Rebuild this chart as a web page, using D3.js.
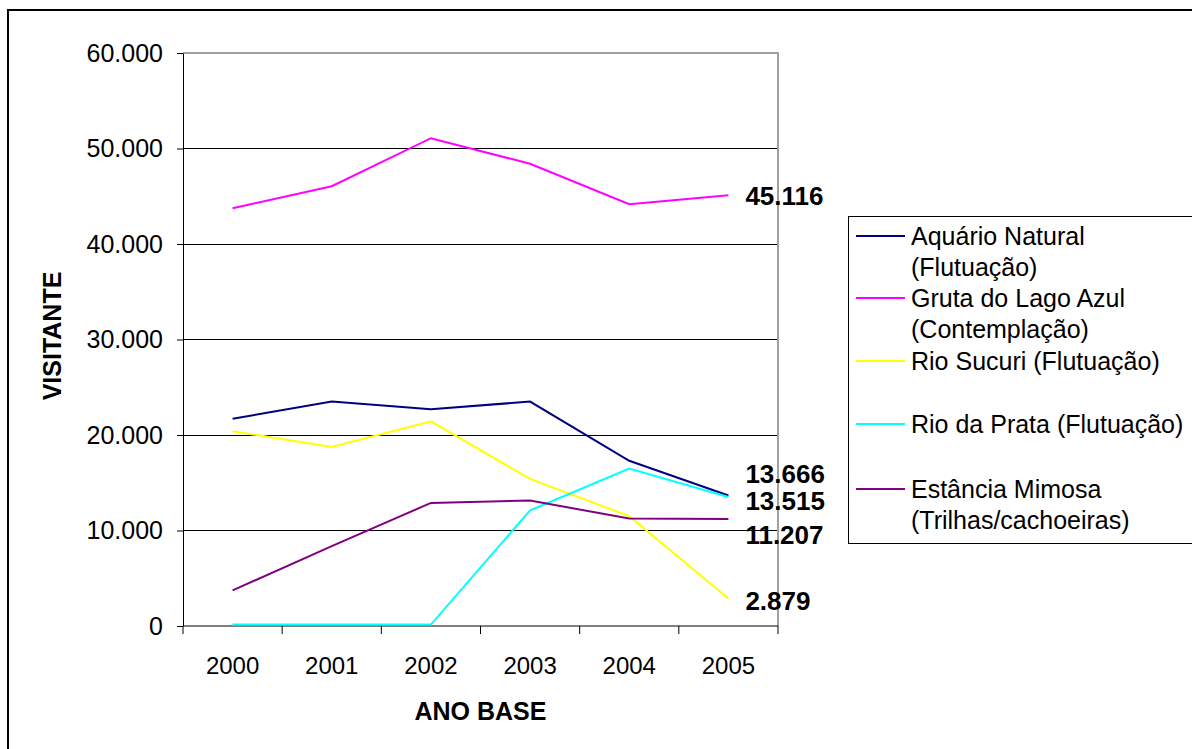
<!DOCTYPE html>
<html><head><meta charset="utf-8">
<script src="https://cdn.jsdelivr.net/npm/d3@7"></script>
<style>
html,body{margin:0;padding:0;background:#fff;}
svg{display:block;font-family:"Liberation Sans",Arial,sans-serif;}
</style></head>
<body>
<svg id="chart" width="1192" height="749"></svg>
<script>
// ---- data ----
const years = ["2000","2001","2002","2003","2004","2005"];
const seriesNames = ["Aquário Natural (Flutuação)","Gruta do Lago Azul (Contemplação)","Rio Sucuri (Flutuação)","Rio da Prata (Flutuação)","Estância Mimosa (Trilhas/cachoeiras)"];
const aquario = [21700, 23500, 22700, 23500, 17300, 13666];
const gruta   = [43750, 46050, 51080, 48400, 44170, 45116];
const sucuri  = [20400, 18750, 21430, 15400, 11500, 2879];
const prata   = [150, 150, 150, 12100, 16480, 13515];
const mimosa  = [3730, 8360, 12890, 13140, 11250, 11207];
const yTicks = [0, 10000, 20000, 30000, 40000, 50000, 60000];
const legendLines = [["Aquário Natural","(Flutuação)"],["Gruta do Lago Azul","(Contemplação)"],["Rio Sucuri (Flutuação)"],["Rio da Prata (Flutuação)"],["Estância Mimosa","(Trilhas/cachoeiras)"]];

// ---- styling / layout ----
const colors = ["#000080","#FF00FF","#FFFF00","#00FFFF","#800080"];
const seriesValues = [aquario, gruta, sucuri, prata, mimosa];
const labelDy = [-22, 1, 2, 4, 16]; // nudges for end labels (per series)
const plot = {left:183, right:778, top:53, bottom:626};

const loc = d3.formatLocale({decimal:",", thousands:".", grouping:[3], currency:["",""]});
const fmt = loc.format(",d");

const svg = d3.select("#chart");

// outer frame
svg.append("rect").attr("x",8).attr("y",10).attr("width",1300).attr("height",900)
  .attr("fill","none").attr("stroke","#000").attr("stroke-width",2);

const x = d3.scaleBand().domain(years).range([plot.left, plot.right]).padding(0);
const y = d3.scaleLinear().domain([0,60000]).range([plot.bottom, plot.top]);

// gridlines
svg.append("g").selectAll("line").data(yTicks.filter(d=>d>0 && d<60000)).join("line")
  .attr("x1",plot.left).attr("x2",plot.right)
  .attr("y1",d=>y(d)).attr("y2",d=>y(d))
  .attr("stroke","#000").attr("stroke-width",1).attr("shape-rendering","crispEdges");
// plot border (top/right)
svg.append("path")
  .attr("d",`M${plot.left},${y(60000)}H${plot.right}V${plot.bottom}`)
  .attr("fill","none").attr("stroke","#a0a0a0").attr("stroke-width",1.5).attr("shape-rendering","crispEdges");

// y axis
const yAxis = d3.axisLeft(y).tickValues(yTicks).tickFormat(d=>fmt(d)).tickSizeInner(6).tickSizeOuter(0).tickPadding(14);
const gy = svg.append("g").attr("transform",`translate(${plot.left},0)`).call(yAxis);
gy.select(".domain").attr("stroke","#000");
gy.selectAll(".tick line").attr("stroke","#000");
gy.selectAll("text").attr("font-size",25).attr("fill","#000").attr("font-family","Liberation Sans, Arial, sans-serif");

// x axis: ticks at band boundaries
const gx = svg.append("g").attr("transform",`translate(0,${plot.bottom})`);
gx.append("line").attr("x1",plot.left).attr("x2",plot.right).attr("y1",0).attr("y2",0).attr("stroke","#000");
const bounds = years.map(d=>x(d)).concat([x(years[years.length-1])+x.bandwidth()]);
gx.selectAll("line.tk").data(bounds).join("line").attr("class","tk")
  .attr("x1",d=>d).attr("x2",d=>d).attr("y1",0).attr("y2",8).attr("stroke","#000");
gx.selectAll("text").data(years).join("text")
  .attr("x",d=>x(d)+x.bandwidth()/2).attr("y",48)
  .attr("text-anchor","middle").attr("font-size",24).attr("fill","#000").text(d=>d);

// axis titles
svg.append("text").attr("x",(plot.left+plot.right)/2).attr("y",720).attr("text-anchor","middle")
  .attr("font-size",25).attr("font-weight","bold").text("ANO BASE");
svg.append("text").attr("transform","translate(61,336) rotate(-90)").attr("text-anchor","middle")
  .attr("font-size",25).attr("font-weight","bold").text("VISITANTE");

// lines
const line = d3.line().x((d,i)=>x(years[i])+x.bandwidth()/2).y(d=>y(d));
svg.append("g").selectAll("path").data(seriesValues).join("path")
  .attr("d",d=>line(d)).attr("fill","none")
  .attr("stroke",(d,i)=>colors[i]).attr("stroke-width",2);

// end labels
svg.append("g").selectAll("text").data(seriesValues).join("text")
  .attr("x",x(years[5])+x.bandwidth()/2+17)
  .attr("y",(d,i)=>y(d[5])+labelDy[i])
  .attr("dy","0.35em").attr("font-size",26).attr("font-weight","bold").attr("fill","#000")
  .text(d=>fmt(d[5]));

// legend
const lg = svg.append("g");
lg.append("rect").attr("x",848.5).attr("y",216.5).attr("width",400).attr("height",327)
  .attr("fill","#fff").attr("stroke","#000").attr("stroke-width",1);
const rowY = [236, 298, 361, 424, 489];
legendLines.forEach((lines,i)=>{
  lg.append("line").attr("x1",856).attr("x2",905).attr("y1",rowY[i]).attr("y2",rowY[i])
    .attr("stroke",colors[i]).attr("stroke-width",2);
  lines.forEach((t,j)=>{
    lg.append("text").attr("x",911).attr("y",rowY[i]+j*31).attr("dy","0.35em")
      .attr("font-size",25).attr("fill","#000").text(t);
  });
});
</script>
</body></html>
